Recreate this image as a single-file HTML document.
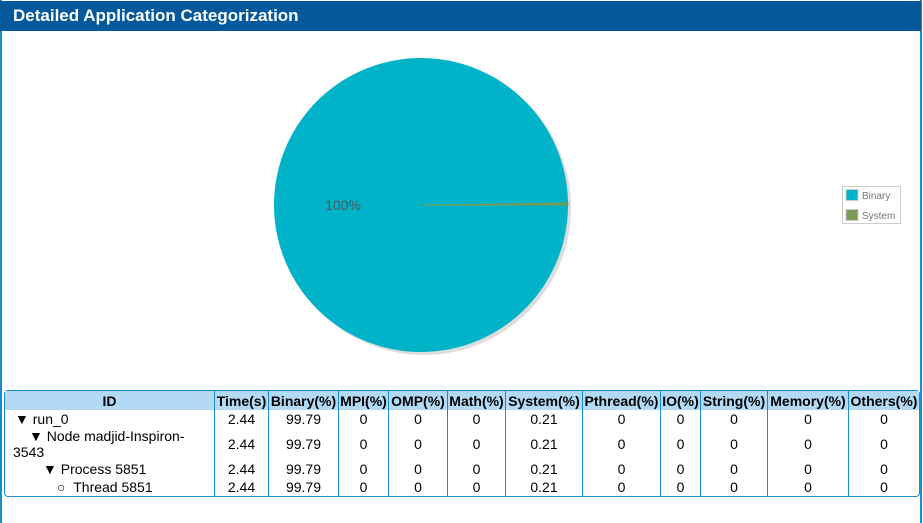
<!DOCTYPE html>
<html><head><meta charset="utf-8"><style>
body{margin:0;width:923px;height:523px;background:#fff;font-family:"Liberation Sans",sans-serif;overflow:hidden;position:relative}
#panel{position:absolute;left:0;top:0;width:918px;height:523px;border-left:2px solid #1a8ad0;border-right:2px solid #1a8ad0}
#hdr{position:absolute;left:0;top:1px;width:921px;height:30px;background:#04599c;color:#fff;font-weight:bold;font-size:17px;line-height:30px;padding-left:13px;box-sizing:border-box}
#chart{position:absolute;left:0;top:0}
table{position:absolute;left:4px;top:390px;width:916px;border-collapse:separate;border-spacing:0;border:1px solid #1a8ad0;border-radius:4px;font-size:14px;table-layout:fixed}
th{background:#b3daf5;font-weight:bold;height:19px;padding:0;border-right:1px solid #1a8ad0;white-space:nowrap}
td{text-align:center;padding:0;border-right:1px solid #1a8ad0;line-height:16px;height:18px}
th:last-child,td:last-child{border-right:none}
td.id{text-align:left}
</style></head><body>
<div id="panel"></div>
<div id="hdr">Detailed Application Categorization</div>
<svg id="chart" width="923" height="390"></svg>
<table>
<colgroup><col style="width:210px"><col style="width:54px"><col style="width:70px"><col style="width:50px"><col style="width:59px"><col style="width:58px"><col style="width:77px"><col style="width:78px"><col style="width:40px"><col style="width:67px"><col style="width:81px"><col></colgroup>
<tr><th>ID</th><th>Time(s)</th><th>Binary(%)</th><th>MPI(%)</th><th>OMP(%)</th><th>Math(%)</th><th>System(%)</th><th>Pthread(%)</th><th>IO(%)</th><th>String(%)</th><th>Memory(%)</th><th>Others(%)</th></tr>
<tr><td class="id" style="padding-left:10px">▼ run_0</td><td>2.44</td><td>99.79</td><td>0</td><td>0</td><td>0</td><td>0.21</td><td>0</td><td>0</td><td>0</td><td>0</td><td>0</td></tr>
<tr><td class="id" style="height:32px;padding-left:8px"><span style="padding-left:16px">▼ Node madjid-Inspiron-</span><br>3543</td><td>2.44</td><td>99.79</td><td>0</td><td>0</td><td>0</td><td>0.21</td><td>0</td><td>0</td><td>0</td><td>0</td><td>0</td></tr>
<tr><td class="id" style="padding-left:38px">▼ Process 5851</td><td>2.44</td><td>99.79</td><td>0</td><td>0</td><td>0</td><td>0.21</td><td>0</td><td>0</td><td>0</td><td>0</td><td>0</td></tr>
<tr><td class="id" style="padding-left:52px">○ &nbsp;Thread 5851</td><td>2.44</td><td>99.79</td><td>0</td><td>0</td><td>0</td><td>0.21</td><td>0</td><td>0</td><td>0</td><td>0</td><td>0</td></tr>
</table>
<script>
const categories=["Binary","System"];
const values=[99.79,0.21];
const colors=["#00b3c8","#7b9b55"];
const labels=["100%",""];
const svg=document.getElementById('chart');
const NS="http://www.w3.org/2000/svg";
const cx=421,cy=205,r=147;
function mk(t,a){const e=document.createElementNS(NS,t);for(const k in a)e.setAttribute(k,a[k]);svg.appendChild(e);return e;}
const sh=mk('circle',{cx:cx+3,cy:cy+3,r:r,fill:'#ddd'});


const tot=values.reduce((a,b)=>a+b,0);
let a0=0;
values.forEach((v,i)=>{
  const a1=a0+v/tot*2*Math.PI;
  const x0=cx+r*Math.cos(a0),y0=cy+r*Math.sin(a0),x1=cx+r*Math.cos(a1),y1=cy+r*Math.sin(a1);
  const large=(a1-a0)>Math.PI?1:0;
  const p=mk('path',{d:`M${cx},${cy}L${x0},${y0}A${r},${r} 0 ${large} 1 ${x1},${y1}Z`,fill:colors[i],stroke:colors[i],'stroke-width':i==1?1:0});
  
  
  if(labels[i]){
    const t=mk('text',{x:cx-78,y:cy+5,'font-size':14,fill:'#555','text-anchor':'middle','font-family':'Liberation Sans'});
    t.textContent=labels[i];
    
    
  }
  a0=a1;
});
const lb=mk('rect',{x:842.5,y:186.5,width:58,height:37,fill:'#fff',stroke:'#ccc'});


categories.forEach((c,i)=>{
  const s=mk('rect',{x:846,y:189.5+i*20,width:12,height:11,fill:colors[i],stroke:'#ccc'});
  
  
  const t=mk('text',{x:862,y:199+i*20,'font-size':10,fill:'#777','font-family':'Liberation Sans'});
  t.textContent=c;
  
  
});
</script>
</body></html>
